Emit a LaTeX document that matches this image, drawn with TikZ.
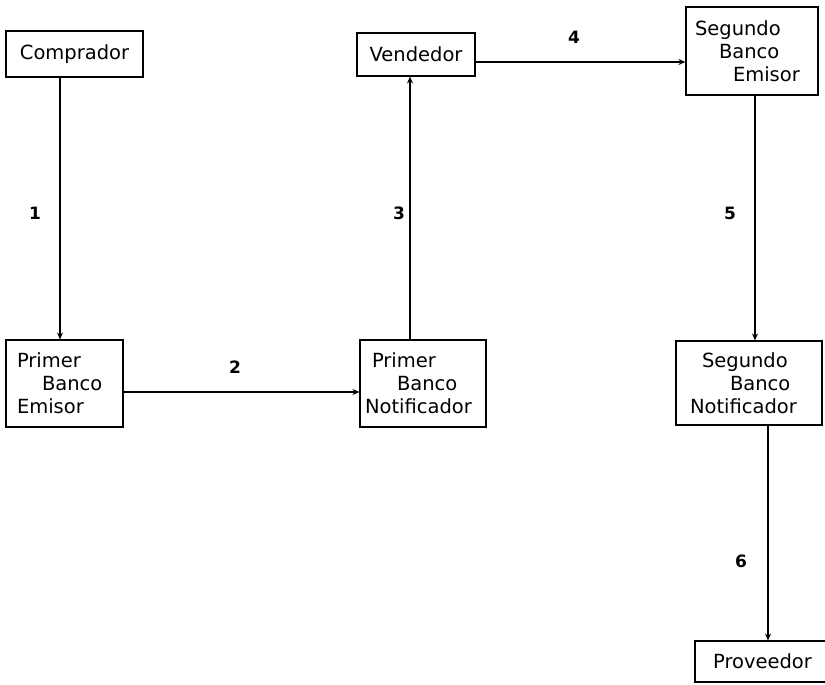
\documentclass[tikz,border=0pt]{standalone}
\usepackage{fontspec}
\setmainfont{DejaVu Sans}
\usetikzlibrary{arrows.meta}
\begin{document}
\begin{tikzpicture}[x=1pt,y=-1pt,
  box/.style={draw,line width=1.1pt,inner sep=0pt,align=left,
    font=\fontsize{19.5}{23}\selectfont},
  arr/.style={line width=1.1pt,-{Stealth[length=7pt,width=6pt]}},
  num/.style={font=\fontsize{17}{18}\selectfont\bfseries}]
\useasboundingbox (0,0) rectangle (825,685);
% boxes
\node[box,minimum width=137pt,minimum height=46pt] (comprador) at (74.5,54) {Comprador};
\node[box,minimum width=118pt,minimum height=43pt] (vendedor) at (416,54.5) {Vendedor};
\node[box,minimum width=117pt,minimum height=87pt,text width=95pt] (pbe) at (64.5,383.5)
  {Primer\\\hspace*{25pt}Banco\\Emisor};
\node[box,minimum width=126pt,minimum height=87pt,text width=116pt] (pbn) at (423,383.5)
  {\hspace*{7pt}Primer\\\hspace*{32pt}Banco\\Notificador};
\node[box,minimum width=132pt,minimum height=88pt,text width=114pt] (sbe) at (752,51)
  {Segundo\\\hspace*{24pt}Banco\\\hspace*{38pt}Emisor};
\node[box,minimum width=146pt,minimum height=84pt,text width=118pt] (sbn) at (749,383)
  {\hspace*{12pt}Segundo\\\hspace*{40pt}Banco\\Notificador};
\node[box,minimum width=135pt,minimum height=41pt] (prov) at (762.5,661.5) {Proveedor};
% connectors
\draw[arr] ([xshift=-14.5pt]comprador.south) -- ([xshift=-4.5pt]pbe.north);
\draw[arr] ([yshift=-8.5pt]pbe.east) -- ([yshift=-8.5pt]pbn.west);
\draw[arr] ([xshift=-13pt]pbn.north) -- ([xshift=-6pt]vendedor.south);
\draw[arr] ([yshift=-7.5pt]vendedor.east) -- ([yshift=-11pt]sbe.west);
\draw[arr] ([xshift=3pt]sbe.south) -- ([xshift=6pt]sbn.north);
\draw[arr] ([xshift=19pt]sbn.south) -- ([xshift=5.5pt]prov.north);
% step numbers
\node[num] (n1) at (35,213) {1};
\node[num] (n2) at (235,367) {2};
\node[num] (n3) at (399,213) {3};
\node[num] (n4) at (574,37) {4};
\node[num] (n5) at (730,213) {5};
\node[num] (n6) at (741,561) {6};
\end{tikzpicture}
\end{document}
